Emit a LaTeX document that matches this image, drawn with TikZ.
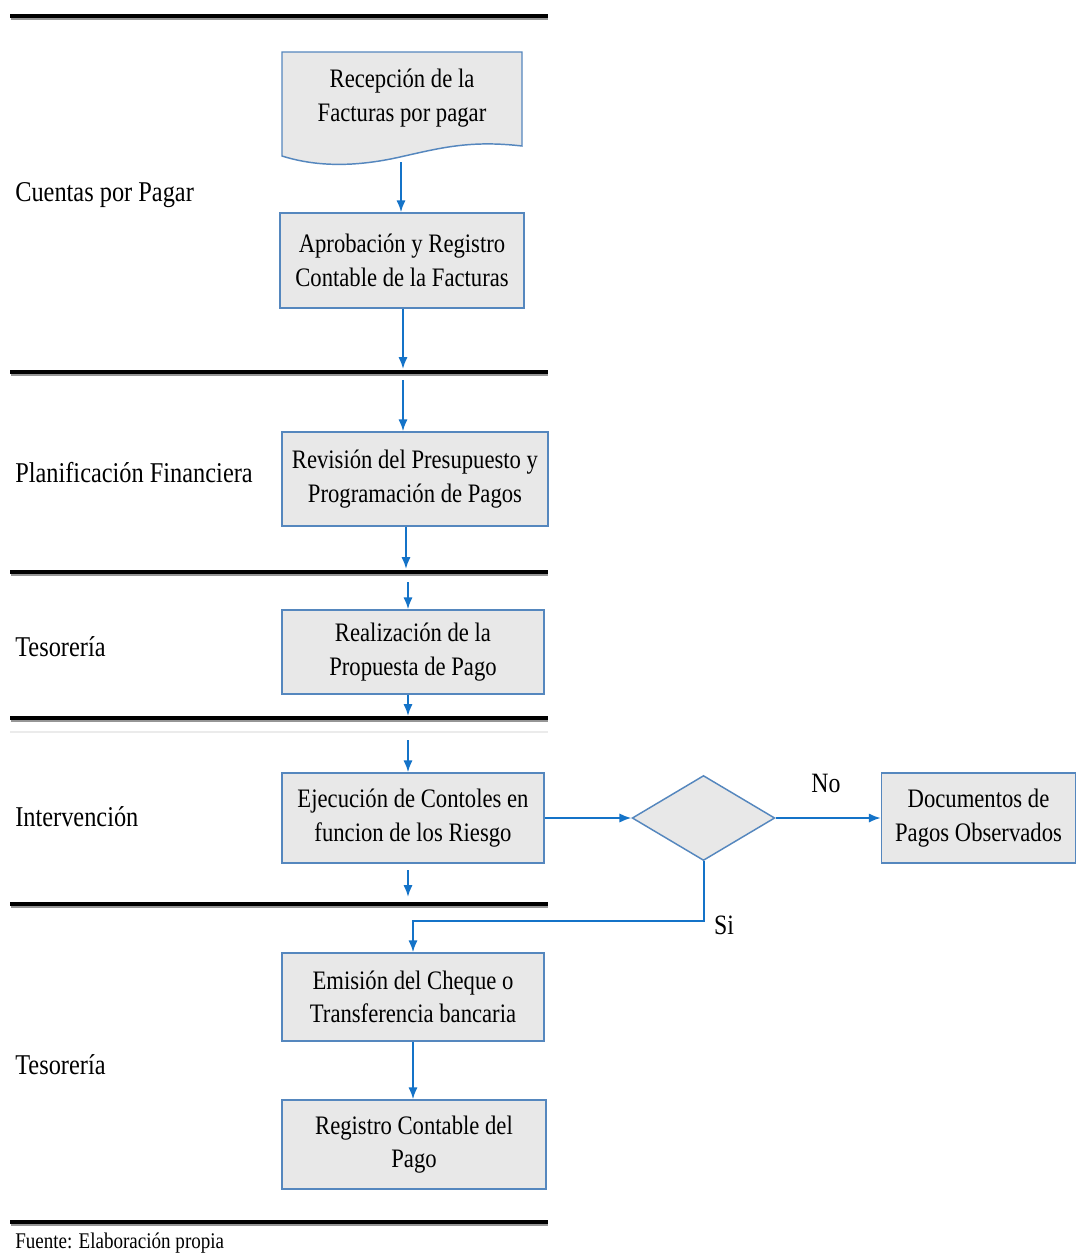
\documentclass[tikz,border=0pt]{standalone}
\usepackage{fontspec}
\setmainfont{Liberation Serif}[FakeStretch=0.85]
\usetikzlibrary{arrows.meta,shapes.geometric}
\definecolor{boxfill}{RGB}{232,232,232}
\definecolor{boxline}{RGB}{85,135,190}
\definecolor{arrowc}{RGB}{20,115,200}
\definecolor{laneshadow}{RGB}{150,150,150}
\tikzset{
  px/.style={x=0.75pt,y=-0.75pt},
  proc/.style={draw=boxline,fill=boxfill,line width=1.1pt,inner sep=0pt,align=center,
    font=\fontsize{20}{25}\selectfont},
  decis/.style={diamond,draw=boxline,fill=boxfill,line width=1.1pt,inner sep=0pt,aspect=1.68},
  flow/.style={draw=arrowc,line width=1.5pt,-{Latex[length=9pt,width=7pt]}},
  lane/.style={line width=3pt,black},
  lanelabel/.style={anchor=west,inner sep=0pt,font=\fontsize{21.5}{26}\selectfont},
  edgelabel/.style={inner sep=0pt,font=\fontsize{21}{25}\selectfont},
}
\begin{document}
\begin{tikzpicture}[px]
\useasboundingbox (0,0) rectangle (1076,1254);
\fill[white] (0,0) rectangle (1076,1254);

% lane separators
\foreach \yy in {16,372,572,718,904,1222}{
  \draw[laneshadow,line width=1.5pt] (11,\yy+2.5) -- (548,\yy+2.5);
  \draw[lane] (10,\yy) -- (548,\yy);
}
\draw[black!8,line width=1pt] (10,732) -- (548,732);

% lane labels
\node[lanelabel] (l1) at (15,195) {Cuentas por Pagar};
\node[lanelabel] (l2) at (15,473) {Planificación Financiera};
\node[lanelabel] (l3) at (15,647) {Tesorería};
\node[lanelabel] (l4) at (15,817) {Intervención};
\node[lanelabel] (l5) at (15,1065) {Tesorería};
\node[anchor=west,inner sep=0pt,font=\fontsize{16.8}{20}\selectfont] (src) at (15,1243) {Fuente: Elaboración propia};

% document shape
\draw[draw=boxline,fill=boxfill,line width=1.1pt]
  (282,52) -- (522,52) -- (522,146)
  .. controls (470,140) and (440,148) .. (400,157)
  .. controls (360,166) and (320,168) .. (282,156) -- cycle;
\node[inner sep=0pt,align=center,font=\fontsize{20}{25}\selectfont] (a1) at (402,98)
  {Recepción de la\\Facturas por pagar};
\coordinate (a1b) at (401,162);

% process boxes
\node[proc,minimum width=183pt,minimum height=71.25pt] (a2) at (402,260.5)
  {Aprobación y Registro\\Contable de la Facturas};
\node[proc,minimum width=199.5pt,minimum height=70.5pt] (a3) at (415,479)
  {Revisión del Presupuesto y\\Programación de Pagos};
\node[proc,minimum width=196.5pt,minimum height=63pt] (a4) at (413,652)
  {Realización de la\\Propuesta de Pago};
\node[proc,minimum width=196.5pt,minimum height=67.5pt] (a5) at (413,818)
  {Ejecución de Contoles en\\funcion de los Riesgo};
\node[decis,minimum width=107pt,minimum height=63.75pt] (d) at (703.5,818) {};
\node[proc,minimum width=145.5pt,minimum height=67.5pt] (obs) at (978.5,818)
  {Documentos de\\Pagos Observados};
\node[proc,minimum width=196.5pt,minimum height=66pt] (a6) at (413,997)
  {Emisión del Cheque o\\Transferencia bancaria};
\node[proc,minimum width=198pt,minimum height=66.75pt] (a7) at (414,1144.5)
  {Registro Contable del\\Pago};

% connectors
\draw[flow] (a1b) -- (a2.north -| a1b);

\coordinate (c1) at (403,369);
\draw[flow] (a2.south -| c1) -- (c1);
\coordinate (c2) at (403,380);
\draw[flow] (c2) -- (a3.north -| c2);

\coordinate (c3) at (406,569);
\draw[flow] (a3.south -| c3) -- (c3);
\coordinate (c4) at (408,582);
\draw[flow] (c4) -- (a4.north -| c4);

\coordinate (c5) at (408,716);
\draw[flow] (a4.south -| c5) -- (c5);
\coordinate (c6) at (408,740);
\draw[flow] (c6) -- (a5.north -| c6);

\coordinate (c7) at (408,870);
\coordinate (c8) at (408,897);
\draw[flow] (c7) -- (c8);

\draw[flow] (a5.east) -- (d.west);
\draw[flow] (d.east) -- (obs.west);
\coordinate (sibend) at (703.5,921);
\coordinate (sidown) at (413,921);
\draw[flow] (d.south) -- (sibend) -- (sidown) -- (a6.north);

\draw[flow] (a6.south) -- (a7.north -| a6.south);

% branch labels
\node[edgelabel] (no) at (826,783) {No};
\node[edgelabel] (si) at (724,925) {Si};
\end{tikzpicture}
\end{document}
